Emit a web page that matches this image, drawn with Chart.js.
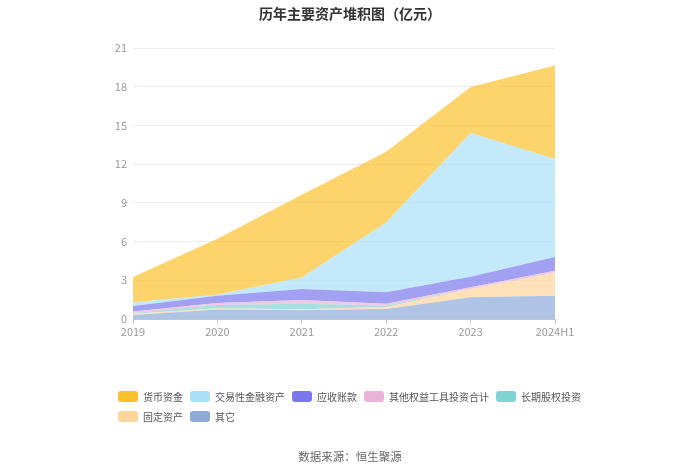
<!DOCTYPE html>
<html><head><meta charset="utf-8">
<script src="https://cdn.jsdelivr.net/npm/chart.js@4/dist/chart.umd.min.js"></script>
<style>
html,body{margin:0;padding:0;background:#fff;}
#wrap{position:relative;width:700px;height:473px;font-family:"Noto Sans CJK SC","Noto Sans",sans-serif;}
canvas{position:absolute;left:0;top:0;}
#title{position:absolute;left:0;width:700px;top:3px;text-align:center;font-size:14px;font-weight:bold;color:#333;}
.lrow{position:absolute;left:118px;display:flex;align-items:center;font-size:10px;color:#555;}
.item{display:flex;align-items:center;margin-right:7px;}
.sw{width:20px;height:11px;border-radius:3px;margin-right:5px;}
#src{position:absolute;left:0;width:700px;top:448px;text-align:center;font-size:11.5px;color:#666;}
</style></head>
<body><div id="wrap"><canvas id="c" width="700" height="473"></canvas>
<div id="title">历年主要资产堆积图（亿元）</div>
<div class="lrow" id="row1" style="top:389px"></div>
<div class="lrow" id="row2" style="top:409px"></div>
<div id="src">数据来源：恒生聚源</div>
</div>
<script>
const categories = ["2019","2020","2021","2022","2023","2024H1"];
const seriesNames = ["货币资金","交易性金融资产","应收账款","其他权益工具投资合计","长期股权投资","固定资产","其它"];
const cash        = [1.95, 4.35, 6.41, 5.49, 3.55, 7.26];
const tradingFin  = [0.30, 0.06, 0.88, 5.40, 11.15, 7.59];
const receivables = [0.42, 0.57, 0.85, 0.88, 0.81, 1.07];
const otherEquity = [0.12, 0.15, 0.30, 0.15, 0.13, 0.15];
const longEquity  = [0.05, 0.26, 0.42, 0.11, 0.00, 0.00];
const fixedAssets = [0.10, 0.10, 0.08, 0.15, 0.64, 1.77];
const others      = [0.31, 0.73, 0.68, 0.78, 1.69, 1.81];
const yTicks = [0,3,6,9,12,15,18,21];

const colors = ["#fcc12d","#a9e0f9","#7b78ee","#eab3d9","#80d3d3","#fed49b","#8daad8"];
function rgba(hex,a){const n=parseInt(hex.slice(1),16);return `rgba(${n>>16},${(n>>8)&255},${n&255},${a})`;}

// stacking order bottom -> top
const stackOrder = [
  [others,6],[fixedAssets,5],[longEquity,4],[otherEquity,3],[receivables,2],[tradingFin,1],[cash,0]
];
const datasets = stackOrder.map(([vals,idx],i)=>({
  label: seriesNames[idx],
  data: vals,
  backgroundColor: rgba(colors[idx],0.7),
  borderColor: rgba(colors[idx],0.7),
  borderWidth: 0,
  pointRadius: 0,
  pointHoverRadius: 0,
  fill: i===0 ? 'origin' : '-1',
  tension: 0
}));

// HTML legend
function addItem(row, idx){
  const it=document.createElement('div');it.className='item';
  const sw=document.createElement('div');sw.className='sw';sw.style.background=colors[idx];
  const tx=document.createElement('span');tx.textContent=seriesNames[idx];
  it.appendChild(sw);it.appendChild(tx);document.getElementById(row).appendChild(it);
}
[0,1,2,3,4].forEach(i=>addItem('row1',i));
[5,6].forEach(i=>addItem('row2',i));

new Chart(document.getElementById('c'),{
  type:'line',
  data:{labels:categories,datasets},
  options:{
    responsive:false,animation:false,
    layout:{padding:{left:103,right:145,top:48,bottom:134}},
    plugins:{legend:{display:false},title:{display:false},tooltip:{enabled:false}},
    scales:{
      x:{
        offset:false,
        grid:{drawOnChartArea:false,drawTicks:true,tickLength:5,color:'#bfc6d2'},
        border:{display:true,color:'#bfc6d2'},
        ticks:{color:'#999',font:{size:11,family:'"Noto Sans CJK SC", sans-serif'},padding:1,maxRotation:0,autoSkip:false},
        afterFit:s=>{s.height=20;}
      },
      y:{
        stacked:true,min:0,max:21,
        afterBuildTicks:s=>{s.ticks=yTicks.map(v=>({value:v}));},
        grid:{color:'#e9edf3',drawTicks:false},
        border:{display:false},
        ticks:{color:'#999',font:{size:11,family:'"Noto Sans CJK SC", sans-serif'},padding:6},
        afterFit:s=>{s.width=30;}
      }
    }
  }
});
</script></body></html>
